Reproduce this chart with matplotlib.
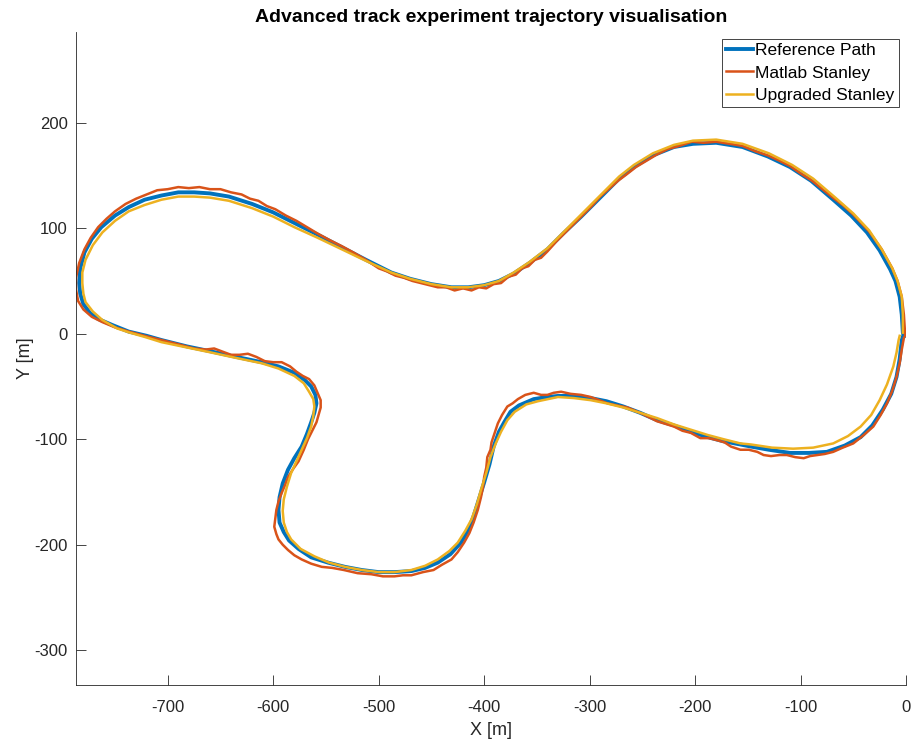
import numpy as np
import matplotlib
matplotlib.use("Agg")
import matplotlib.pyplot as plt

plt.rcParams['font.family'] = ['Liberation Sans', 'DejaVu Sans']
plt.rcParams['axes.unicode_minus'] = False

# reference path (x, y) in metres
ref_xy = [
    (-1, -2), (-3, 1), (-4, 18), (-6, 35), (-10, 50), (-15, 61), (-25, 79), (-37, 96),
    (-52, 112), (-69, 127), (-90, 145), (-110, 158), (-131, 168), (-155, 177), (-180, 181),
    (-202, 180), (-220, 177), (-240, 169), (-258, 158), (-272, 147), (-290, 129), (-308, 111),
    (-325, 95), (-340, 80), (-357, 67), (-372, 57), (-386, 50), (-400, 46), (-415, 44),
    (-431, 44), (-450, 47), (-470, 52), (-488, 58), (-512, 70), (-535, 82), (-558, 94),
    (-580, 105), (-600, 115), (-620, 123), (-642, 130), (-660, 133), (-675, 134), (-690, 134),
    (-706, 131), (-722, 127), (-737, 120), (-750, 112), (-763, 101), (-772, 90), (-779, 77),
    (-783, 62), (-784, 48), (-783, 38), (-780, 28), (-774, 20), (-766, 14), (-752, 8),
    (-737, 2), (-720, -2), (-706, -6), (-682, -12), (-658, -17), (-635, -22), (-611, -27),
    (-595, -31), (-580, -37), (-570, -44), (-564, -50), (-560, -58), (-559, -66), (-561, -75),
    (-564, -84), (-568, -95), (-573, -107), (-580, -118), (-586, -129), (-591, -142),
    (-594, -155), (-595, -167), (-594, -179), (-590, -188), (-585, -196), (-576, -204),
    (-564, -212), (-548, -217), (-532, -221), (-516, -224), (-500, -226), (-485, -226),
    (-469, -225), (-456, -222), (-444, -217), (-432, -209), (-422, -198), (-415, -186),
    (-410, -173), (-405, -157), (-400, -141), (-395, -124), (-391, -107), (-386, -93),
    (-381, -84), (-375, -74), (-367, -68), (-353, -62), (-340, -60), (-330, -59), (-315, -59),
    (-299, -61), (-284, -64), (-268, -69), (-252, -75), (-236, -82), (-220, -87), (-204, -93),
    (-188, -98), (-173, -102), (-157, -105), (-147, -107), (-130, -110), (-110, -113),
    (-92, -113), (-75, -112), (-58, -106), (-43, -98), (-32, -87), (-22, -72), (-14, -57),
    (-9, -41), (-6, -24), (-4, -6), (-2, 0),
]

# vehicle track with the stock Stanley controller
matlab_xy = [
    (-1, -2), (-1, 2), (-2, 18), (-4, 35), (-8, 50), (-13, 62), (-23, 80), (-35, 97),
    (-50, 113), (-60, 122), (-68, 128), (-78, 136), (-89, 145), (-100, 152), (-110, 159),
    (-120, 164), (-131, 169), (-143, 173), (-155, 178), (-167, 180), (-180, 182), (-192, 181),
    (-203, 182), (-215, 178), (-226, 175), (-236, 170), (-246, 164), (-256, 158), (-265, 151),
    (-273, 145), (-282, 137), (-290, 130), (-298, 121), (-308, 111), (-316, 103), (-324, 95),
    (-332, 87), (-340, 78), (-346, 72), (-352, 70), (-358, 64), (-364, 62), (-370, 56),
    (-377, 54), (-384, 48), (-391, 47), (-398, 43), (-405, 44), (-412, 41), (-420, 43),
    (-428, 41), (-436, 44), (-444, 44), (-452, 46), (-460, 48), (-468, 50), (-476, 53),
    (-484, 55), (-492, 59), (-500, 62), (-512, 70), (-524, 77), (-535, 83), (-547, 89),
    (-558, 95), (-568, 101), (-578, 107), (-588, 112), (-598, 118), (-606, 121), (-614, 126),
    (-622, 128), (-630, 132), (-640, 134), (-650, 137), (-660, 137), (-670, 139), (-680, 138),
    (-690, 139), (-700, 137), (-710, 136), (-720, 132), (-730, 128), (-740, 123), (-750, 116),
    (-758, 109), (-766, 101), (-773, 91), (-779, 80), (-784, 67), (-787, 53), (-787, 42),
    (-785, 31), (-780, 23), (-772, 16), (-762, 11), (-750, 6), (-737, 2), (-722, -2),
    (-706, -6), (-690, -10), (-675, -14), (-664, -15), (-656, -14), (-648, -17), (-640, -20),
    (-632, -20), (-624, -19), (-616, -22), (-608, -26), (-600, -27), (-592, -27), (-584, -31),
    (-578, -36), (-572, -40), (-566, -43), (-561, -49), (-558, -56), (-555, -63), (-555, -70),
    (-557, -77), (-559, -84), (-563, -92), (-567, -100), (-571, -110), (-576, -121),
    (-581, -128), (-586, -136), (-589, -144), (-592, -151), (-595, -159), (-597, -167),
    (-598, -175), (-599, -183), (-597, -190), (-595, -195), (-591, -200), (-586, -205),
    (-580, -210), (-573, -214), (-564, -218), (-554, -221), (-544, -222), (-533, -224),
    (-520, -227), (-507, -228), (-496, -230), (-485, -230), (-477, -229), (-469, -229),
    (-458, -226), (-448, -224), (-440, -219), (-431, -214), (-425, -207), (-419, -198),
    (-414, -189), (-410, -179), (-406, -167), (-403, -155), (-401, -145), (-400, -136),
    (-398, -127), (-397, -117), (-394, -110), (-393, -103), (-390, -94), (-387, -85),
    (-383, -77), (-378, -69), (-373, -66), (-368, -62), (-361, -58), (-353, -56), (-346, -58),
    (-340, -58), (-334, -56), (-327, -55), (-318, -57), (-308, -58), (-299, -60), (-291, -63),
    (-283, -66), (-274, -68), (-264, -70), (-250, -76), (-236, -83), (-220, -88), (-212, -92),
    (-204, -94), (-195, -99), (-187, -99), (-179, -101), (-172, -103), (-166, -107),
    (-157, -110), (-149, -110), (-141, -112), (-135, -115), (-128, -116), (-120, -115),
    (-113, -115), (-105, -117), (-97, -118), (-91, -116), (-84, -115), (-77, -114),
    (-69, -112), (-60, -108), (-50, -104), (-40, -96), (-31, -88), (-24, -77), (-18, -66),
    (-13, -54), (-9, -41), (-6, -28), (-4, -15), (-2, -4),
]

# vehicle track with the upgraded controller
upgraded_xy = [
    (-3, 1), (-3, 18), (-4, 35), (-8, 50), (-13, 62), (-23, 80), (-35, 98), (-50, 114),
    (-67, 129), (-88, 147), (-108, 160), (-130, 171), (-155, 180), (-180, 184), (-202, 183),
    (-220, 179), (-240, 171), (-258, 160), (-272, 149), (-290, 131), (-308, 113), (-325, 96),
    (-340, 81), (-357, 68), (-372, 58), (-386, 50), (-400, 46), (-415, 44), (-431, 44),
    (-450, 47), (-470, 52), (-488, 58), (-512, 69), (-535, 80), (-558, 91), (-580, 101),
    (-600, 111), (-620, 119), (-642, 126), (-660, 129), (-675, 130), (-690, 130), (-706, 127),
    (-722, 122), (-737, 116), (-750, 107), (-762, 96), (-771, 84), (-778, 70), (-781, 58),
    (-781, 48), (-780, 38), (-778, 30), (-771, 21), (-762, 13), (-748, 5), (-736, 1),
    (-722, -3), (-706, -8), (-682, -13), (-658, -18), (-635, -23), (-611, -28), (-595, -33),
    (-580, -40), (-571, -47), (-566, -55), (-562, -62), (-561, -69), (-562, -78), (-564, -88),
    (-568, -99), (-573, -110), (-578, -121), (-583, -132), (-587, -145), (-590, -157),
    (-591, -168), (-590, -179), (-587, -188), (-583, -195), (-574, -204), (-561, -211),
    (-547, -217), (-532, -221), (-516, -224), (-500, -226), (-485, -226), (-469, -224),
    (-456, -220), (-444, -214), (-433, -206), (-425, -198), (-418, -187), (-412, -176),
    (-407, -162), (-403, -148), (-398, -132), (-394, -117), (-389, -104), (-384, -93),
    (-378, -82), (-371, -74), (-360, -67), (-349, -64), (-330, -60), (-315, -61), (-299, -63),
    (-284, -66), (-268, -70), (-252, -75), (-236, -80), (-220, -86), (-204, -91), (-188, -96),
    (-173, -100), (-157, -104), (-147, -105), (-127, -108), (-107, -109), (-88, -108),
    (-69, -104), (-55, -97), (-43, -88), (-33, -77), (-25, -63), (-18, -48), (-12, -31),
    (-9, -18), (-7, -6), (-6, -2),
]

labels = ['Reference Path', 'Matlab Stanley', 'Upgraded Stanley']
colors = ['#0072BD', '#D95319', '#EDB120']
x_ticks = [-700, -600, -500, -400, -300, -200, -100, 0]
y_ticks = [-300, -200, -100, 0, 100, 200]

fig = plt.figure(figsize=(9.12, 7.44), dpi=100)
ax = fig.add_axes([76 / 912, 59 / 744, 830 / 912, 653 / 744])

ref = np.array(ref_xy)
mat = np.array(matlab_xy)
upg = np.array(upgraded_xy)

ax.plot(ref[:, 0], ref[:, 1], color=colors[0], lw=2.8, label=labels[0])
ax.plot(mat[:, 0], mat[:, 1], color=colors[1], lw=1.8, label=labels[1])
ax.plot(upg[:, 0], upg[:, 1], color=colors[2], lw=1.8, label=labels[2])

ax.set_xlim(-787, 0)
ax.set_ylim(-333, 286)
ax.set_xticks(x_ticks)
ax.set_yticks(y_ticks)

for side in ['top', 'right']:
    ax.spines[side].set_visible(False)
for side in ['left', 'bottom']:
    ax.spines[side].set_color('#262626')
    ax.spines[side].set_linewidth(0.6)
ax.tick_params(direction='in', length=7, width=0.6, color='#262626',
               labelcolor='#262626', labelsize=12)
ax.tick_params(axis='x', pad=11)
ax.tick_params(axis='y', pad=6)

ax.set_xlabel('X [m]', fontsize=13, color='#262626', labelpad=5)
ax.set_ylabel('Y [m]', fontsize=13, color='#262626', labelpad=0)
ax.set_title('Advanced track experiment trajectory visualisation',
             fontsize=14, fontweight='bold', color='black', pad=7)

leg = ax.legend(loc='upper right', fontsize=12.5, handlelength=1.55, handletextpad=0.15,
                labelspacing=0.4, borderpad=0.25, borderaxespad=0.4,
                fancybox=False, framealpha=1)
leg.get_frame().set_edgecolor('#262626')
leg.get_frame().set_linewidth(0.6)

fig.savefig('out.png', dpi=100)
